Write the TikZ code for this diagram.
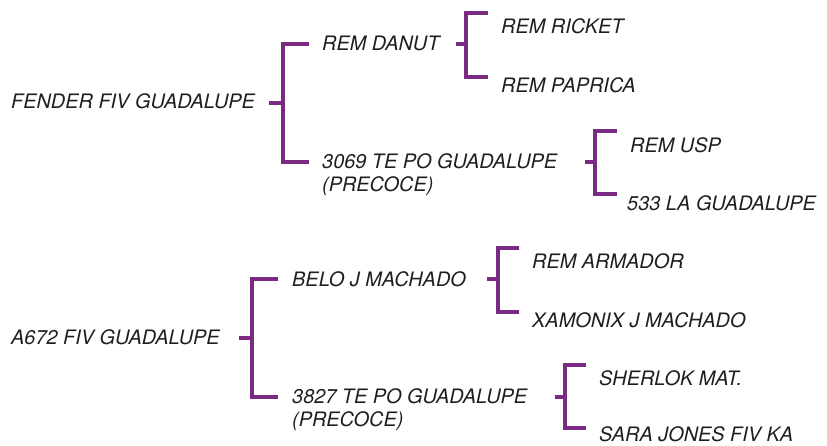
\documentclass[tikz,border=0pt]{standalone}
\usepackage{fontspec}
\setmainfont{TeX Gyre Heros}
\definecolor{brcol}{RGB}{122,42,128}
\definecolor{txcol}{RGB}{30,30,30}
\begin{document}
\begin{tikzpicture}[x=1pt,y=-1pt,
  lbl/.style={anchor=base west,inner sep=0pt,align=left,text=txcol,
    font=\fontsize{19.9}{23}\selectfont\itshape},
  br/.style={draw=brcol,line width=3.2pt,line join=miter,line cap=butt}]
\useasboundingbox (0,0) rectangle (827,445);
% ---- top tree
\node[lbl] (fender) at (11,108.5) {FENDER FIV GUADALUPE};
\node[lbl] (danut) at (322,50) {REM DANUT};
\node[lbl] (te3069) at (322,191) {3069 TE PO GUADALUPE\\(PRECOCE)};
\node[lbl] (ricket) at (501,33) {REM RICKET};
\node[lbl] (paprica) at (501,92) {REM PAPRICA};
\node[lbl] (usp) at (630,152) {REM USP};
\node[lbl] (la533) at (627,210) {533 LA GUADALUPE};
% ---- bottom tree
\node[lbl] (a672) at (11,344) {A672 FIV GUADALUPE};
\node[lbl] (belo) at (292,286) {BELO J MACHADO};
\node[lbl] (te3827) at (292,426) {3827 TE PO GUADALUPE\\(PRECOCE)};
\node[lbl] (armador) at (532,268) {REM ARMADOR};
\node[lbl] (xamonix) at (532,327) {XAMONIX J MACHADO};
\node[lbl] (sherlok) at (599,385) {SHERLOK MAT.};
\node[lbl] (sara) at (599,441.5) {SARA JONES FIV KA};
% ---- bracket coordinates
\coordinate (s1) at (269,103); \coordinate (j1) at (283,103);
\coordinate (t1) at (309,44);  \coordinate (b1) at (309,162);
\coordinate (s2) at (456,44);  \coordinate (j2) at (466,44);
\coordinate (t2) at (488,13);  \coordinate (b2) at (488,77);
\coordinate (s3) at (585,162); \coordinate (j3) at (595,162);
\coordinate (t3) at (617,131); \coordinate (b3) at (617,194);
\coordinate (s4) at (239,338); \coordinate (j4) at (252,338);
\coordinate (t4) at (278,279); \coordinate (b4) at (278,397);
\coordinate (s5) at (487,279); \coordinate (j5) at (498,279);
\coordinate (t5) at (519,248); \coordinate (b5) at (519,312);
\coordinate (s6) at (555,397); \coordinate (j6) at (565,397);
\coordinate (t6) at (586,365); \coordinate (b6) at (586,428);
% ---- brackets
\foreach \i in {1,...,6}{
  \draw[br] (s\i) -- (j\i);
  \draw[br] (t\i) -| (j\i) |- (b\i);
}
\end{tikzpicture}
\end{document}
